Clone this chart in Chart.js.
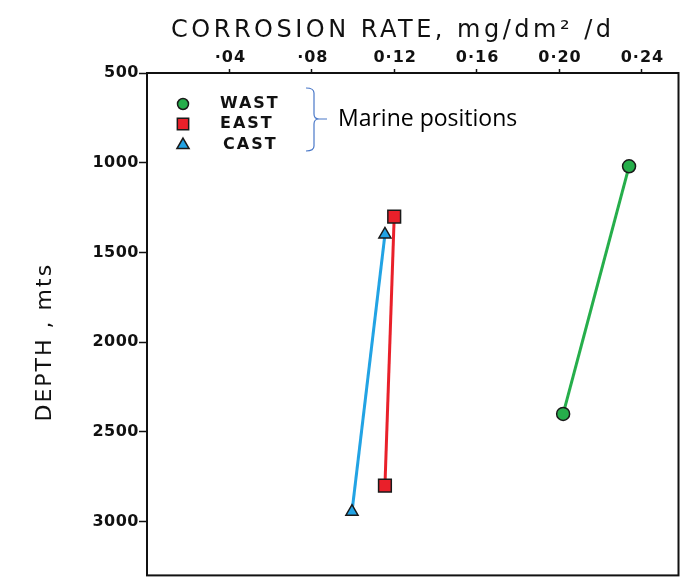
<!DOCTYPE html>
<html>
<head>
<meta charset="utf-8">
<script src="https://cdn.jsdelivr.net/npm/chart.js@4.4.1/dist/chart.umd.min.js"></script>
<style>
  html, body { margin: 0; padding: 0; background: #fff; }
  #wrap { width: 689px; height: 586px; }
</style>
</head>
<body>
<div id="wrap"><canvas id="chart" width="689" height="586"></canvas></div>
<script>
// values
const seriesNames = ["WAST", "EAST", "CAST"];
const wastRate = [0.234, 0.202];
const wastDepth = [1020, 2400];
const eastRate = [0.12, 0.1155];
const eastDepth = [1300, 2800];
const castRate = [0.1155, 0.0995];
const castDepth = [1400, 2945];

const rateTicks = [0.04, 0.08, 0.12, 0.16, 0.2, 0.24];
const rateTickLabels = ["·04", "·08", "0·12", "0·16", "0·20", "0·24"];
const depthTicks = [500, 1000, 1500, 2000, 2500, 3000];
const depthTickLabels = ["500", "1000", "1500", "2000", "2500", "3000"];

const toPoints = (xs, ys) => xs.map((x, i) => ({ x: x, y: ys[i] }));

const seriesColors = ["#26ae4b", "#e9202a", "#22a3e4"];
const seriesStyles = ["circle", "rect", "triangle"];
const seriesRadius = [6.5, 9, 7];
const seriesData = [
  toPoints(wastRate, wastDepth),
  toPoints(eastRate, eastDepth),
  toPoints(castRate, castDepth),
];

// wrap one draw step of a scale to give its text letter spacing / a nudge
function wrapDraw(scale, method, spacing, dx, dy) {
  const orig = scale[method];
  scale[method] = function (...args) {
    const c = this.ctx;
    c.save();
    c.letterSpacing = spacing;
    c.translate(dx, dy);
    orig.apply(this, args);
    c.restore();
  };
}

const framePlugin = {
  id: "frame",
  afterLayout(chart) {
    if (chart._spaced) return;
    chart._spaced = true;
    wrapDraw(chart.scales.x, "drawTitle", "3.5px", -20, 0);
    wrapDraw(chart.scales.x, "drawLabels", "1px", 1, 0);
    wrapDraw(chart.scales.y, "drawTitle", "2px", 0, 18);
    wrapDraw(chart.scales.y, "drawLabels", "0.5px", 1, 0);
  },
  beforeDatasetsDraw(chart) {
    const { ctx, chartArea: a } = chart;
    ctx.save();
    ctx.strokeStyle = "#111";
    ctx.lineWidth = 2;
    ctx.strokeRect(a.left, a.top, a.right - a.left, a.bottom - a.top);
    ctx.restore();
  },
  afterDraw(chart) {
    const ctx = chart.ctx;
    const rows = [104, 124, 145];
    ctx.save();
    chart.data.datasets.forEach((ds, i) => {
      ctx.fillStyle = ds.pointBackgroundColor;
      ctx.strokeStyle = "#1a1a1a";
      ctx.lineWidth = 1.5;
      Chart.helpers.drawPoint(ctx, {
        pointStyle: ds.pointStyle,
        radius: [5.5, 8, 7][i],
        borderWidth: 1.5,
        rotation: 0,
      }, 183, rows[i]);
      ctx.letterSpacing = "2px";
      ctx.fillStyle = "#111";
      ctx.font = "bold 16px 'DejaVu Sans'";
      ctx.textBaseline = "middle";
      ctx.textAlign = "left";
      ctx.fillText(ds.label, i === 2 ? 223 : 220, rows[i]);
      ctx.letterSpacing = "0px";
    });
    // bracket and note
    ctx.strokeStyle = "#4a78c8";
    ctx.lineWidth = 1.2;
    ctx.beginPath();
    ctx.moveTo(306, 88);
    ctx.quadraticCurveTo(314, 88, 314, 93);
    ctx.lineTo(314, 114);
    ctx.quadraticCurveTo(314, 119, 319, 119);
    ctx.lineTo(327, 119);
    ctx.moveTo(319, 119);
    ctx.quadraticCurveTo(314, 119, 314, 124);
    ctx.lineTo(314, 146);
    ctx.quadraticCurveTo(314, 151, 306, 151);
    ctx.stroke();
    ctx.fillStyle = "#000";
    ctx.font = "23px 'Open Sans'";
    ctx.textBaseline = "middle";
    ctx.textAlign = "left";
    ctx.fillText("Marine positions", 338, 119);
    ctx.restore();
  },
};

new Chart(document.getElementById("chart"), {
  type: "scatter",
  data: {
    datasets: seriesNames.map((name, i) => ({
      label: name,
      data: seriesData[i],
      showLine: true,
      borderColor: seriesColors[i],
      borderWidth: 3,
      pointStyle: seriesStyles[i],
      pointRadius: seriesRadius[i],
      pointBackgroundColor: seriesColors[i],
      pointBorderColor: "#1a1a1a",
      pointBorderWidth: 1.5,
    })),
  },
  options: {
    responsive: false,
    animation: false,
    devicePixelRatio: 1,
    layout: { padding: { top: 0, left: 0, right: 3, bottom: 2 } },
    plugins: {
      legend: { display: false },
      tooltip: { enabled: false },
    },
    scales: {
      x: {
        type: "linear",
        position: "top",
        min: 0,
        max: 0.258,
        afterBuildTicks: (scale) => {
          scale.ticks = rateTicks.map((v) => ({ value: v }));
        },
        afterFit: (scale) => {
          scale.height = 73;
        },
        ticks: {
          color: "#111",
          font: { family: "DejaVu Sans", size: 16, weight: "bold" },
          padding: 2,
          maxRotation: 0,
          callback: (value, index) => rateTickLabels[index],
        },
        grid: {
          drawOnChartArea: false,
          tickLength: 4,
          tickWidth: 1.5,
          color: "#111",
        },
        border: { color: "#111", width: 2 },
        title: {
          display: true,
          text: "CORROSION RATE, mg/dm² /d",
          color: "#111",
          font: { family: "DejaVu Sans", size: 24 },
          padding: { top: 16, bottom: 0 },
        },
      },
      y: {
        type: "linear",
        reverse: true,
        min: 500,
        max: 3300,
        afterBuildTicks: (scale) => {
          scale.ticks = depthTicks.map((v) => ({ value: v }));
        },
        afterFit: (scale) => {
          scale.width = 147;
        },
        ticks: {
          color: "#111",
          font: { family: "DejaVu Sans", size: 16, weight: "bold" },
          padding: 1,
          callback: (value, index) => depthTickLabels[index],
        },
        grid: {
          drawOnChartArea: false,
          tickLength: 8,
          tickWidth: 1.5,
          color: "#111",
        },
        border: { color: "#111", width: 2 },
        title: {
          display: true,
          text: "DEPTH , mts",
          color: "#111",
          font: { family: "DejaVu Sans", size: 22 },
          padding: { top: 32, bottom: 0 },
        },
      },
    },
  },
  plugins: [framePlugin],
});
</script>
</body>
</html>
